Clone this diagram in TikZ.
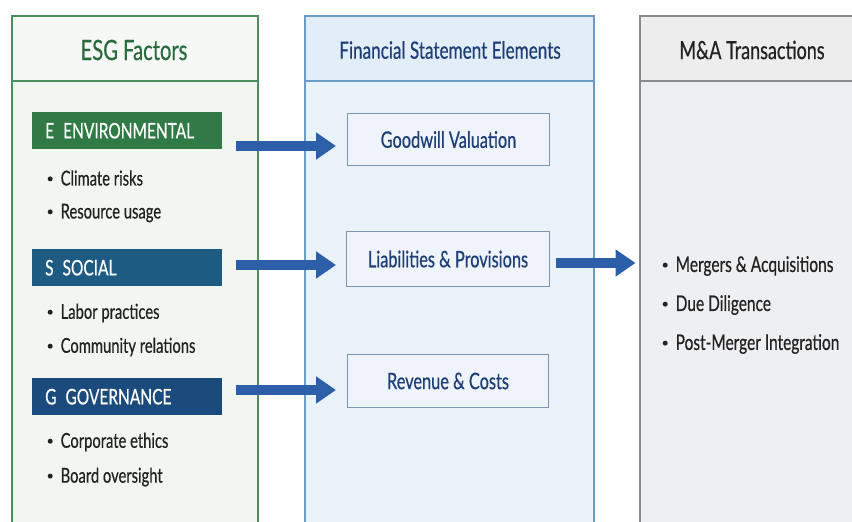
\documentclass[tikz,border=0pt]{standalone}
\usepackage{fontspec}
\setmainfont[FakeStretch=0.72, FakeBold=0.5]{Lato}
\usetikzlibrary{arrows.meta}
\definecolor{esgline}{HTML}{4A8F5C}
\definecolor{esgfill}{HTML}{F2F6F1}
\definecolor{esghead}{HTML}{F5F8F4}
\definecolor{esgtext}{HTML}{2B6A3D}
\definecolor{envbar}{HTML}{2F7A45}
\definecolor{socbar}{HTML}{1D5B83}
\definecolor{govbar}{HTML}{1B4A7C}
\definecolor{finline}{HTML}{6A9CC6}
\definecolor{finfill}{HTML}{E9F1F9}
\definecolor{finhead}{HTML}{E2EDF7}
\definecolor{fintext}{HTML}{1E3E78}
\definecolor{boxline}{HTML}{7D95B0}
\definecolor{boxfill}{HTML}{EEF4FA}
\definecolor{maline}{HTML}{8A8A8A}
\definecolor{mafill}{HTML}{EEEFF1}
\definecolor{mahead}{HTML}{EDEDEE}
\definecolor{flow}{HTML}{2C5FA8}
\definecolor{body}{HTML}{222222}
\tikzset{
  x=1pt, y=-1pt,
  coltitle/.style={anchor=center},
  pillar/.style={fill=#1bar, inner xsep=13pt, inner ysep=0pt, minimum width=190pt,
    minimum height=37pt, text=white, anchor=north west,
    font=\fontsize{21.5}{23}\selectfont, align=left, text width=164pt},
  item/.style={anchor=west, text=body, font=\fontsize{20.5}{23}\selectfont, inner sep=0pt},
  maitem/.style={item, font=\fontsize{21.5}{23}\selectfont},
  fsbox/.style={draw=boxline, line width=1pt, fill=boxfill, anchor=north west,
    inner sep=0pt, text=fintext, font=\fontsize{22.7}{25}\selectfont},
  flowarrow/.style={draw=flow, line width=10pt,
    -{Triangle[length=20pt,width=26pt]}}
}
\newcommand{\dotitem}{\raisebox{0.2em}{\tikz\fill[body] (0,0) circle (2.5pt);}\hspace{8pt}}
\begin{document}
\begin{tikzpicture}
\useasboundingbox (0,0) rectangle (852,522);
\clip (0,0) rectangle (852,522);
\fill[white] (0,0) rectangle (852,522);

% --- column frames (they run off the lower edge) ---
\filldraw[fill=esgfill, draw=esgline, line width=1.6pt] (12,16) rectangle (258,540);
\fill[esghead] (12,16) rectangle (258,81);
\draw[esgline, line width=1.6pt] (12,16) rectangle (258,540) (12,81) -- (258,81);

\filldraw[fill=finfill, draw=finline, line width=1.6pt] (305,16) rectangle (594,540);
\fill[finhead] (305,16) rectangle (594,81);
\draw[finline, line width=1.6pt] (305,16) rectangle (594,540) (305,81) -- (594,81);

\filldraw[fill=mafill, draw=maline, line width=1.6pt] (640,16) rectangle (870,540);
\fill[mahead] (640,16) rectangle (870,81);
\draw[maline, line width=1.6pt] (640,16) rectangle (870,540) (640,81) -- (870,81);

% --- column titles ---
\node[coltitle, text=esgtext, font=\fontsize{28}{30}\selectfont] (esgtitle) at (134,50) {ESG Factors};
\node[coltitle, text=fintext, font=\fontsize{23.8}{26}\selectfont] (fintitle) at (450,50) {Financial Statement Elements};
\node[coltitle, text=body, font=\fontsize{25}{27}\selectfont] (matitle) at (752,50) {M\&A Transactions};

% --- ESG pillars ---
\node[pillar=env] (env) at (32,112) {E\hspace{9pt}ENVIRONMENTAL};
\node[item] (env1) at (47.5,178) {\dotitem Climate risks};
\node[item] (env2) at (47.5,213) {\dotitem Resource usage};

\node[pillar=soc] (soc) at (32,249) {S\hspace{9pt}SOCIAL};
\node[item] (soc1) at (47.5,313) {\dotitem Labor practices};
\node[item] (soc2) at (47.5,347) {\dotitem Community relations};

\node[pillar=gov] (gov) at (32,378) {G\hspace{9pt}GOVERNANCE};
\node[item] (gov1) at (47.5,442) {\dotitem Corporate ethics};
\node[item] (gov2) at (47.5,477) {\dotitem Board oversight};

% --- financial statement elements ---
\node[fsbox, minimum width=202pt, minimum height=52pt] (goodwill) at (347,113) {Goodwill Valuation};
\node[fsbox, minimum width=203pt, minimum height=55pt] (liab) at (346,231) {Liabilities \& Provisions};
\node[fsbox, minimum width=201pt, minimum height=53pt] (rev) at (347,354) {Revenue \& Costs};

% --- M&A transactions ---
\node[maitem] (ma1) at (662.5,266) {\dotitem Mergers \& Acquisitions};
\node[maitem] (ma2) at (662.5,305) {\dotitem Due Diligence};
\node[maitem] (ma3) at (662.5,344) {\dotitem Post-Merger Integration};

% --- flows ---
\coordinate (envout) at (236,146);
\coordinate (socout) at (236,265);
\coordinate (govout) at (236,390);
\coordinate (liabout) at (556,263);
\draw[flowarrow, shorten >=11pt] (envout) -- (envout -| goodwill.west);
\draw[flowarrow, shorten >=10pt] (socout) -- (socout -| liab.west);
\draw[flowarrow, shorten >=11pt] (govout) -- (govout -| rev.west);
\draw[flowarrow, shorten >=27pt] (liabout) -- (liabout -| ma1.west);
\end{tikzpicture}
\end{document}
